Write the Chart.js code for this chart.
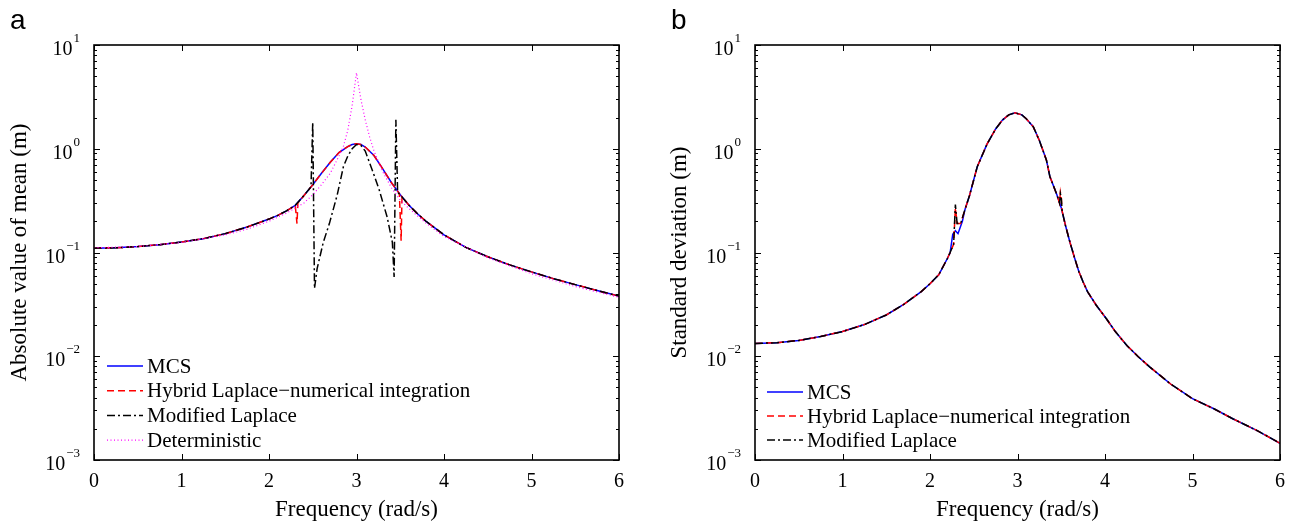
<!DOCTYPE html>
<html lang="en">
<head>
<meta charset="UTF-8">
<title>Mean and standard deviation of the response</title>
<script src="https://cdn.jsdelivr.net/npm/chart.js"></script>
<style>
    body { margin: 0; background: #fff; }
    .painel { position: absolute; top: 0; }
</style>
</head>
<body>
<div class="painel" style="left:0"><canvas id="graficoMedia" width="647" height="524"></canvas></div>
<div class="painel" style="left:647px"><canvas id="graficoDesvio" width="648" height="524"></canvas></div>
<script>
    // ---- panel a: absolute value of mean ----
    const freqMcsA = [0, 0.25, 0.5, 0.75, 1, 1.25, 1.5, 1.75, 2, 2.1, 2.2, 2.3, 2.4, 2.5, 2.6, 2.7, 2.8, 2.9, 2.95, 3, 3.05, 3.1, 3.2, 3.3, 3.4, 3.5, 3.6, 3.7, 3.8, 4, 4.25, 4.5, 4.75, 5, 5.25, 5.5, 5.75, 6];
    const mcsMeanA = [0.110, 0.111, 0.114, 0.119, 0.126, 0.136, 0.152, 0.176, 0.21, 0.228, 0.252, 0.285, 0.355, 0.45, 0.58, 0.74, 0.92, 1.05, 1.10, 1.12, 1.10, 1.04, 0.86, 0.64, 0.47, 0.36, 0.285, 0.235, 0.198, 0.148, 0.112, 0.091, 0.076, 0.065, 0.056, 0.049, 0.043, 0.038];

    const freqHybA = [0, 0.25, 0.5, 0.75, 1, 1.25, 1.5, 1.75, 2, 2.1, 2.2, 2.3, 2.32, 2.33, 2.4, 2.5, 2.6, 2.7, 2.8, 2.9, 2.95, 3, 3.05, 3.1, 3.2, 3.3, 3.4, 3.49, 3.51, 3.52, 3.6, 3.7, 3.8, 4, 4.25, 4.5, 4.75, 5, 5.25, 5.5, 5.75, 6];
    const hybMeanA = [0.110, 0.111, 0.114, 0.119, 0.126, 0.136, 0.152, 0.176, 0.21, 0.228, 0.252, 0.285, 0.19, 0.30, 0.355, 0.45, 0.58, 0.74, 0.92, 1.05, 1.10, 1.12, 1.10, 1.04, 0.86, 0.64, 0.47, 0.37, 0.13, 0.345, 0.285, 0.235, 0.198, 0.148, 0.112, 0.091, 0.076, 0.065, 0.056, 0.049, 0.043, 0.038];

    const freqModA = [0, 0.25, 0.5, 0.75, 1, 1.25, 1.5, 1.75, 2, 2.1, 2.2, 2.3, 2.4, 2.48, 2.50, 2.52, 2.55, 2.62, 2.69, 2.78, 2.85, 2.9, 2.95, 3.0, 3.05, 3.1, 3.19, 3.26, 3.35, 3.41, 3.43, 3.45, 3.47, 3.5, 3.6, 3.7, 3.8, 4, 4.25, 4.5, 4.75, 5, 5.25, 5.5, 5.75, 6];
    const modMeanA = [0.110, 0.111, 0.114, 0.119, 0.126, 0.136, 0.152, 0.176, 0.21, 0.228, 0.252, 0.285, 0.355, 0.43, 1.8, 0.045, 0.07, 0.125, 0.19, 0.36, 0.67, 0.85, 1.0, 1.1, 1.08, 0.95, 0.59, 0.40, 0.22, 0.125, 0.058, 1.9, 0.38, 0.36, 0.285, 0.235, 0.198, 0.148, 0.112, 0.091, 0.076, 0.065, 0.056, 0.049, 0.043, 0.038];

    const freqDetA = [0, 0.5, 1, 1.5, 1.75, 2, 2.2, 2.4, 2.5, 2.6, 2.7, 2.8, 2.85, 2.9, 2.95, 3, 3.05, 3.1, 3.15, 3.2, 3.3, 3.4, 3.5, 3.6, 3.8, 4, 4.5, 5, 5.5, 6];
    const detMeanA = [0.111, 0.114, 0.125, 0.148, 0.168, 0.20, 0.24, 0.30, 0.36, 0.45, 0.58, 0.85, 1.05, 1.5, 2.6, 5.4, 3.0, 1.9, 1.3, 0.95, 0.60, 0.42, 0.32, 0.265, 0.19, 0.143, 0.089, 0.0625, 0.047, 0.037];

    // ---- panel b: standard deviation ----
    const freqMcsB = [0, 0.25, 0.5, 0.75, 1, 1.25, 1.5, 1.7, 1.9, 2.0, 2.1, 2.2, 2.23, 2.26, 2.29, 2.32, 2.37, 2.4, 2.45, 2.54, 2.65, 2.75, 2.83, 2.9, 2.97, 3.05, 3.1, 3.18, 3.25, 3.33, 3.37, 3.45, 3.5, 3.55, 3.6, 3.65, 3.7, 3.75, 3.8, 3.9, 4.02, 4.12, 4.25, 4.38, 4.51, 4.75, 5, 5.25, 5.46, 5.75, 6];
    const mcsStdB = [0.0133, 0.0135, 0.0142, 0.0155, 0.0173, 0.0202, 0.025, 0.0316, 0.042, 0.05, 0.061, 0.088, 0.10, 0.15, 0.162, 0.152, 0.2, 0.26, 0.35, 0.67, 1.1, 1.55, 1.9, 2.12, 2.22, 2.12, 1.95, 1.63, 1.2, 0.78, 0.54, 0.36, 0.27, 0.18, 0.125, 0.09, 0.066, 0.052, 0.042, 0.031, 0.0227, 0.0172, 0.0127, 0.0099, 0.0079, 0.0054, 0.0039, 0.0031, 0.0025, 0.0019, 0.00145];

    const freqHybB = [0, 0.25, 0.5, 0.75, 1, 1.25, 1.5, 1.7, 1.9, 2.0, 2.1, 2.2, 2.23, 2.27, 2.29, 2.31, 2.35, 2.4, 2.45, 2.54, 2.65, 2.75, 2.83, 2.9, 2.97, 3.05, 3.1, 3.18, 3.25, 3.33, 3.37, 3.45, 3.48, 3.49, 3.5, 3.51, 3.55, 3.6, 3.65, 3.7, 3.75, 3.8, 3.9, 4.02, 4.12, 4.25, 4.38, 4.51, 4.75, 5, 5.25, 5.46, 5.75, 6];
    const hybStdB = [0.0133, 0.0135, 0.0142, 0.0155, 0.0173, 0.0202, 0.025, 0.0316, 0.042, 0.05, 0.061, 0.088, 0.10, 0.12, 0.27, 0.19, 0.19, 0.26, 0.35, 0.67, 1.1, 1.55, 1.9, 2.12, 2.22, 2.12, 1.95, 1.63, 1.2, 0.78, 0.54, 0.36, 0.30, 0.38, 0.34, 0.25, 0.18, 0.125, 0.09, 0.066, 0.052, 0.042, 0.031, 0.0227, 0.0172, 0.0127, 0.0099, 0.0079, 0.0054, 0.0039, 0.0031, 0.0025, 0.0019, 0.00145];
    const modStdB = [0.0133, 0.0135, 0.0142, 0.0155, 0.0173, 0.0202, 0.025, 0.0316, 0.042, 0.05, 0.061, 0.088, 0.10, 0.12, 0.29, 0.19, 0.19, 0.26, 0.35, 0.67, 1.1, 1.55, 1.9, 2.12, 2.22, 2.12, 1.95, 1.63, 1.2, 0.78, 0.54, 0.36, 0.30, 0.37, 0.34, 0.25, 0.18, 0.125, 0.09, 0.066, 0.052, 0.042, 0.031, 0.0227, 0.0172, 0.0127, 0.0099, 0.0079, 0.0054, 0.0039, 0.0031, 0.0025, 0.0019, 0.00145];

    // axis ticks
    const freqTicks = [0, 1, 2, 3, 4, 5, 6];
    const logTicks = [1e-3, 1e-2, 1e-1, 1, 10];
    const logExpo = ['\u22123', '\u22122', '\u22121', '0', '1'];

    const SERIF = '"Liberation Serif", "Times New Roman", serif';

    function pontos(xs, ys) {
        return xs.map((x, i) => ({ x: x, y: ys[i] }));
    }

    // frame, inward ticks, tick labels, legend and panel letter
    const molduraPlugin = {
        id: 'moldura',
        afterDraw(chart, args, opts) {
            const ctx = chart.ctx;
            const a = chart.chartArea;
            const sx = chart.scales.x, sy = chart.scales.y;
            ctx.save();
            ctx.strokeStyle = '#000';
            ctx.lineWidth = 1;
            ctx.beginPath();
            freqTicks.forEach(v => {
                const px = Math.round(sx.getPixelForValue(v)) + 0.5;
                ctx.moveTo(px, a.bottom); ctx.lineTo(px, a.bottom - 6);
                ctx.moveTo(px, a.top); ctx.lineTo(px, a.top + 6);
            });
            logTicks.forEach((v, i) => {
                const py = Math.round(sy.getPixelForValue(v)) + 0.5;
                ctx.moveTo(a.left, py); ctx.lineTo(a.left + 6, py);
                ctx.moveTo(a.right, py); ctx.lineTo(a.right - 6, py);
                if (i < logTicks.length - 1) {
                    for (let m = 2; m <= 9; m++) {
                        const pm = Math.round(sy.getPixelForValue(v * m)) + 0.5;
                        ctx.moveTo(a.left, pm); ctx.lineTo(a.left + 3, pm);
                        ctx.moveTo(a.right, pm); ctx.lineTo(a.right - 3, pm);
                    }
                }
            });
            ctx.stroke();

            ctx.lineWidth = 1.6;
            ctx.strokeRect(a.left, a.top, a.right - a.left, a.bottom - a.top);

            ctx.fillStyle = '#000';
            ctx.textBaseline = 'alphabetic';
            ctx.font = '20px ' + SERIF;
            ctx.textAlign = 'center';
            freqTicks.forEach(v => ctx.fillText(String(v), sx.getPixelForValue(v), a.bottom + 27));

            const direita = a.left - 14;
            logTicks.forEach((v, i) => {
                const py = sy.getPixelForValue(v);
                ctx.font = '13px ' + SERIF;
                const we = ctx.measureText(logExpo[i]).width;
                ctx.textAlign = 'left';
                ctx.fillText(logExpo[i], direita - we, py - 3);
                ctx.font = '20px ' + SERIF;
                ctx.textAlign = 'right';
                ctx.fillText('10', direita - we - 1, py + 10);
            });

            // legend
            ctx.font = '21px ' + SERIF;
            ctx.textAlign = 'left';
            ctx.textBaseline = 'middle';
            chart.data.datasets.forEach((ds, i) => {
                const y = opts.legY + i * opts.legDy;
                ctx.save();
                ctx.strokeStyle = ds.borderColor;
                ctx.lineWidth = ds.borderWidth;
                ctx.setLineDash(ds.borderDash || []);
                ctx.beginPath();
                ctx.moveTo(opts.legX, y);
                ctx.lineTo(opts.legX + 36, y);
                ctx.stroke();
                ctx.restore();
                ctx.fillText(ds.label, opts.legX + 40, y + 1);
            });

            ctx.font = '28px "Liberation Sans", Arial, sans-serif';
            ctx.textBaseline = 'alphabetic';
            ctx.fillText(opts.letra, opts.letraX, 29);
            ctx.restore();
        }
    };

    function serie(label, xs, ys, cor, traco, largura, ordem) {
        return {
            label: label,
            data: pontos(xs, ys),
            borderColor: cor,
            borderDash: traco,
            borderWidth: largura,
            order: ordem,
            fill: false
        };
    }

    function criarGrafico(id, datasets, tituloY, cfg) {
        return new Chart(document.getElementById(id), {
            type: 'line',
            data: { datasets: datasets },
            options: {
                responsive: false,
                animation: false,
                layout: { padding: { left: cfg.padLeft, top: 45, right: cfg.padRight, bottom: 0 } },
                elements: { point: { radius: 0 }, line: { tension: 0 } },
                plugins: {
                    legend: { display: false },
                    tooltip: { enabled: false },
                    moldura: cfg.moldura
                },
                scales: {
                    x: {
                        type: 'linear', min: 0, max: 6,
                        grid: { display: false, drawTicks: false },
                        border: { display: false },
                        ticks: { display: false },
                        title: { display: true, text: 'Frequency (rad/s)', color: '#000',
                                 font: { family: SERIF, size: 23 }, padding: { top: 0, bottom: 0 } },
                        afterFit: s => { s.height = 64; }
                    },
                    y: {
                        type: 'logarithmic', min: 1e-3, max: 10,
                        grid: { display: false, drawTicks: false },
                        border: { display: false },
                        ticks: { display: false },
                        title: { display: true, text: tituloY, color: '#000',
                                 font: { family: SERIF, size: 23 }, padding: { top: 6, bottom: 0 } },
                        afterFit: s => { s.width = cfg.yWidth; }
                    }
                }
            },
            plugins: [molduraPlugin]
        });
    }

    criarGrafico('graficoMedia', [
        serie('MCS', freqMcsA, mcsMeanA, '#0000ff', [], 1.5, 4),
        serie('Hybrid Laplace\u2212numerical integration', freqHybA, hybMeanA, '#ff0000', [7, 4], 1.5, 3),
        serie('Modified Laplace', freqModA, modMeanA, '#000000', [8, 3, 2, 3], 1.5, 2),
        serie('Deterministic', freqDetA, detMeanA, '#ff00ff', [1, 2.5], 1.2, 1)
    ], 'Absolute value of mean (m)', {
        padLeft: 0, padRight: 28, yWidth: 94,
        moldura: { legX: 107, legY: 366, legDy: 24.7, letra: 'a', letraX: 10 }
    });

    criarGrafico('graficoDesvio', [
        serie('MCS', freqMcsB, mcsStdB, '#0000ff', [], 1.5, 3),
        serie('Hybrid Laplace\u2212numerical integration', freqHybB, hybStdB, '#ff0000', [7, 4], 1.5, 2),
        serie('Modified Laplace', freqHybB, modStdB, '#000000', [8, 3, 2, 3], 1.5, 1)
    ], 'Standard deviation (m)', {
        padLeft: 13, padRight: 15, yWidth: 95,
        moldura: { legX: 120, legY: 392, legDy: 24, letra: 'b', letraX: 24 }
    });
</script>
</body>
</html>
